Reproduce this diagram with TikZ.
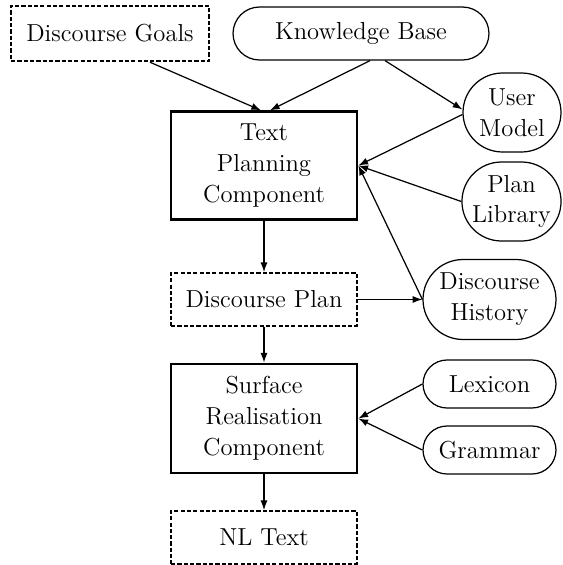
\documentclass[tikz,border=0pt]{standalone}
\usepackage{tikz}
\usetikzlibrary{arrows,arrows.meta,positioning,shapes.misc}

\tikzset{
  compbox/.style={draw, line width=1.6pt, minimum width=3.72cm, minimum height=2.15cm, inner sep=0pt, align=center},
  databox/.style={draw, line width=1pt, dash pattern=on 2.4pt off 1.2pt, minimum width=3.72cm, minimum height=1.06cm, inner sep=0pt, align=center},
  storebox/.style={draw, line width=0.7pt, rounded rectangle, inner sep=0pt, align=center},
  flow/.style={-{Latex[length=5.5pt,width=4pt]}, line width=0.7pt}
}

\begin{document}
\begin{tikzpicture}[x=0.02cm, y=-0.02cm, font=\fontsize{14}{17.6}\selectfont]

\useasboundingbox (0,0) rectangle (562,565);

\node[databox, line width=1.4pt, minimum width=3.96cm, minimum height=1.1cm] (goals) at (110,33.5) {Discourse Goals};
\node[storebox, minimum width=5.12cm, minimum height=1.06cm] (kbase) at (361,33.5) {Knowledge Base};

\node[compbox] (planner) at (264,165.5) {Text\\Planning\\Component};
\node[storebox, minimum width=1.96cm, minimum height=1.58cm] (usermodel) at (512,112.5) {User\\Model};
\node[storebox, minimum width=1.96cm, minimum height=1.58cm] (planlib) at (511.5,201.5) {Plan\\Library};

\node[databox] (dplan) at (264,299.5) {Discourse Plan};
\node[storebox, minimum width=2.66cm, minimum height=1.6cm] (dhistory) at (489.5,299.5) {Discourse\\History};

\node[compbox, minimum height=2.18cm] (realiser) at (264,418.5) {Surface\\Realisation\\Component};
\node[storebox, minimum width=2.66cm, minimum height=0.96cm] (lexicon) at (489.5,384) {Lexicon};
\node[storebox, minimum width=2.66cm, minimum height=0.96cm] (grammar) at (489.5,450) {Grammar};

\node[databox] (nltext) at (264,537.5) {NL Text};

\draw[flow] ([xshift=0.8cm]goals.south) -- ([xshift=-0.06cm]planner.north);
\draw[flow] ([xshift=0.18cm]kbase.south) -- ([xshift=0.12cm]planner.north);
\draw[flow] ([xshift=0.48cm]kbase.south) -- ([yshift=0.06cm]usermodel.west);

\draw[flow] ([yshift=-0.04cm]usermodel.west) -- (planner.east);
\draw[flow] (planlib.west) -- (planner.east);
\draw[flow] (dhistory.west) -- (planner.east);

\draw[flow] (planner) -- (dplan);
\draw[flow] (dplan) -- (dhistory);
\draw[flow] (dplan) -- (realiser);

\draw[flow] (lexicon.west) -- (realiser.east);
\draw[flow] (grammar.west) -- (realiser.east);
\draw[flow] (realiser) -- (nltext);

\end{tikzpicture}
\end{document}
